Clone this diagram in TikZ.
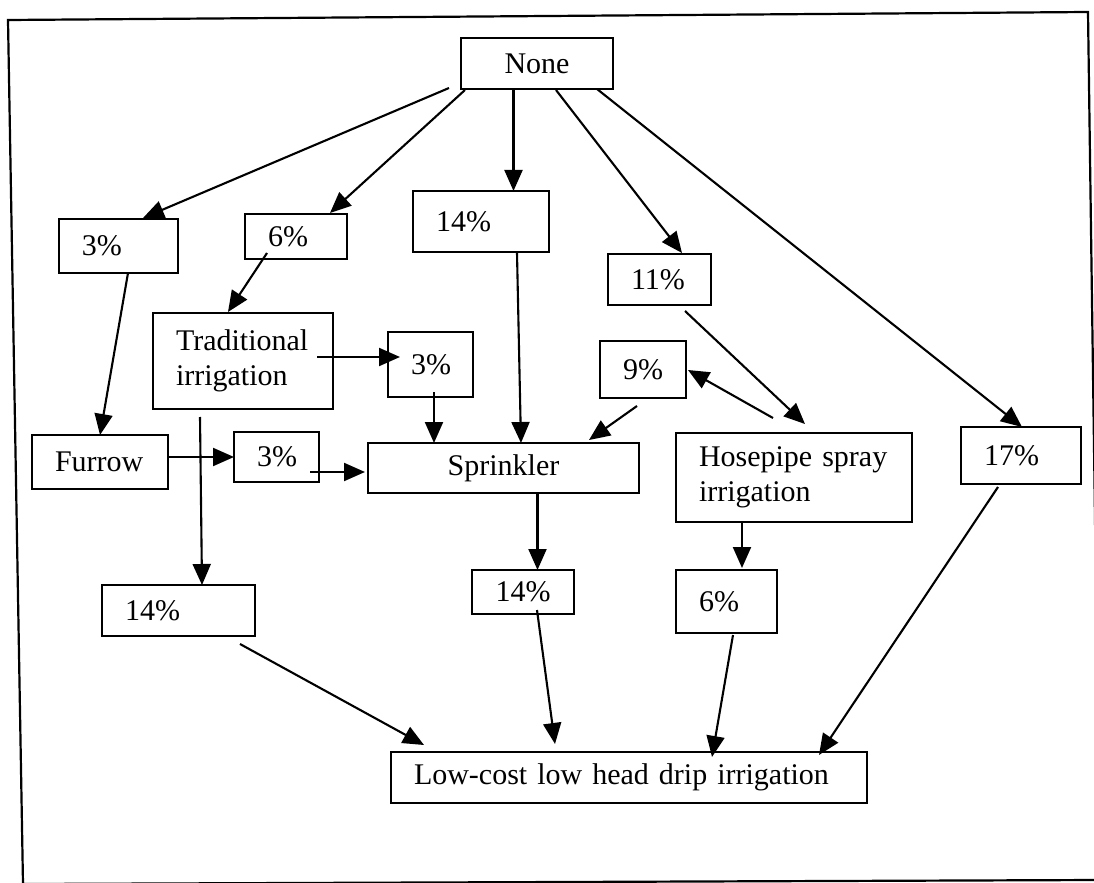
\documentclass[tikz,border=0pt]{standalone}
\usepackage{fontspec}
\setmainfont{Liberation Serif}
\usetikzlibrary{arrows.meta, calc}
\tikzset{
    % Box styles - plain sharp rectangles
    stage/.style={
        rectangle,
        draw=black,
        line width=1.1pt,
        anchor=north west,
        inner xsep=11.5pt,
        inner ysep=0pt,
        outer sep=0pt,
        align=left,
        font=\fontsize{15}{17.5}\selectfont
    },
    share/.style={
        stage
    },
    % Arrow style - straight lines only
    arrow/.style={
        -{Triangle[length=10.5pt, width=9pt]},
        line width=1.05pt,
        draw=black
    },
    frame/.style={
        line width=1.1pt,
        draw=black
    }
}

\begin{document}
\begin{tikzpicture}[x=0.5pt, y=-0.5pt]
    \useasboundingbox (0,0) rectangle (1094,883);
    \draw[frame] (8,20) -- (1088,12) -- (1100,880) -- (23,884) -- cycle;

    % Top row
    \node[stage, text width=53pt, minimum height=25.5pt, align=center] (none) at (461,38) {None};
    \node[share, text width=36.5pt, minimum height=27pt] (pa) at (59,219) {3\%};
    \node[share, text width=28pt, minimum height=22.5pt] (pb) at (245,214) {6\%};
    \node[share, text width=45pt, minimum height=30.5pt] (pc) at (413,191) {14\%};
    \node[share, text width=28.5pt, minimum height=25.5pt] (pd) at (608,254) {11\%};

    % Middle row
    \node[stage, text width=67pt, minimum height=48pt] (trad) at (153,313) {Traditional\\irrigation};
    \node[share, text width=19.5pt, minimum height=32.5pt] (pe) at (388,332) {3\%};
    \node[share, text width=20pt, minimum height=28.5pt] (pf) at (600,341) {9\%};
    \node[stage, text width=45pt, minimum height=27pt] (furrow) at (32,435) {Furrow};
    \node[share, text width=19.5pt, minimum height=25pt] (pg) at (234,432) {3\%};
    \node[stage, text width=112.5pt, minimum height=25pt, align=center] (sprink) at (368,443) {Sprinkler};
    \node[stage, text width=95pt, minimum height=44.5pt] (hose) at (676,433) {Hosepipe spray\\irrigation};
    \node[share, text width=37pt, minimum height=28.5pt] (ph) at (961,427) {17\%};

    % Bottom row
    \node[share, text width=53.5pt, minimum height=25.5pt] (pi) at (102,585) {14\%};
    \node[share, text width=28pt, minimum height=22pt, align=center] (pj) at (472,570) {14\%};
    \node[share, text width=27.5pt, minimum height=31.5pt] (pk) at (676,570) {6\%};
    \node[stage, text width=215pt, minimum height=25.5pt] (drip) at (391,752) {Low-cost low head drip irrigation};

    % From None
    \draw[arrow] ($(none.south west)+(-12,-1)$) -- ($(pa.north)+(24.5,-1)$);
    \draw[arrow] ($(none.south west)+(4,1)$) -- ($(pb.north east)+(-17,-1)$);
    \draw[arrow] ($(none.south)+(-23.5,1)$) -- ($(pc.north)+(32.5,0)$);
    \draw[arrow] ($(none.south)+(19,1)$) -- ($(pd.north)+(22.5,-1)$);
    \draw[arrow] ($(none.south east)+(-16,0)$) -- ($(ph.north)+(1,0)$);

    % Second level
    \draw[arrow] ($(pa.south)+(9.5,0)$) -- (furrow.north);
    \draw[arrow] ($(pb.south)+(-29,-6)$) -- ($(trad.north)+(-15,-1)$);
    \draw[arrow] ($(trad.east)+(-16,-4)$) -- ($(pe.west)+(12,-7.5)$);
    \draw[arrow] ($(pe.south)+(3.5,-5)$) -- ($(sprink.north)+(-69.5,0)$);
    \draw[arrow] ($(pc.south)+(36,1)$) -- ($(sprink.north)+(17.5,0)$);
    \draw[arrow] ($(pd.south)+(25.5,6)$) -- ($(hose.north)+(11,-9)$);
    \draw[arrow] ($(hose.north)+(-21,-15)$) -- ($(pf.east)+(2,0.5)$);
    \draw[arrow] ($(pf.south)+(-6,8)$) -- ($(sprink.north east)+(-50,-3)$);
    \draw[arrow] ($(trad.south)+(-43,8)$) -- ($(pi.north)+(23.5,0)$);
    \draw[arrow] ($(furrow.east)+(0,-5)$) -- (pg.west);
    \draw[arrow] ($(pg.east)+(-9,15)$) -- ($(sprink.west)+(-3,4)$);
    \draw[arrow] ($(sprink.south)+(34,0)$) -- ($(pj.north)+(14.5,0)$);
    \draw[arrow] ($(hose.south)+(-52,0)$) -- ($(pk.north)+(15.5,-2)$);

    % Into drip irrigation
    \draw[arrow] ($(pi.south east)+(-15,8)$) -- ($(drip.north west)+(33,-7)$);
    \draw[arrow] ($(pj.south)+(14,-4)$) -- ($(drip.north)+(-74,-8)$);
    \draw[arrow] ($(pk.south)+(6.5,2)$) -- ($(drip.north)+(83,5)$);
    \draw[arrow] ($(ph.south)+(-23,3)$) -- ($(drip.north east)+(-48,3)$);
\end{tikzpicture}
\end{document}
